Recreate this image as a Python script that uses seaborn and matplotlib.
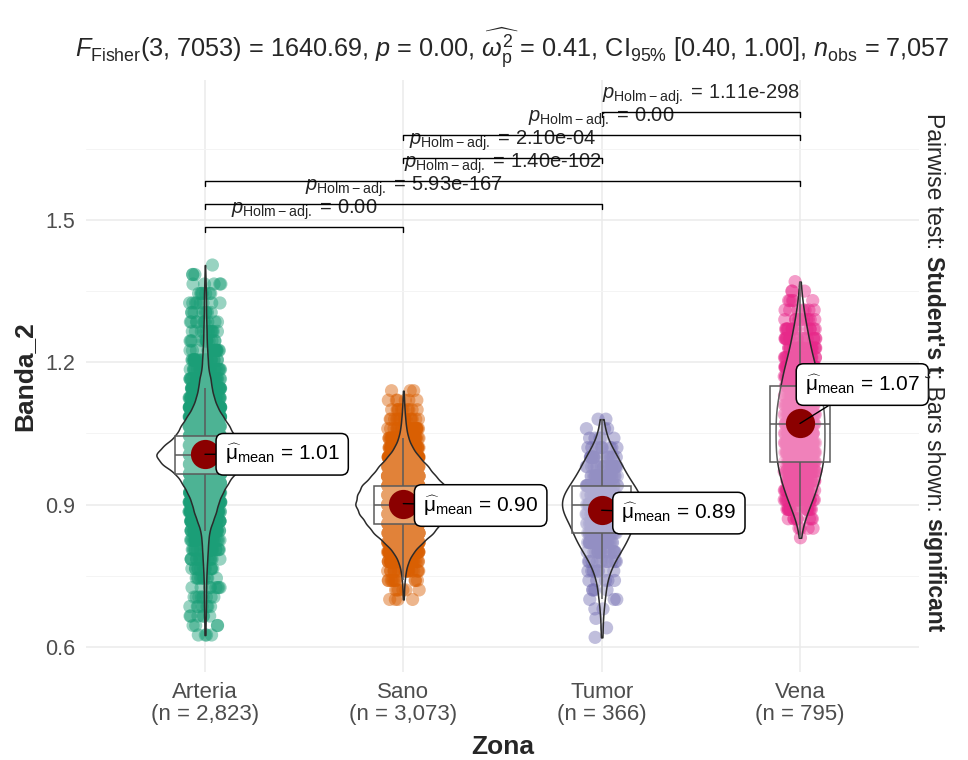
import numpy as np
import pandas as pd
import matplotlib
matplotlib.use("Agg")
import matplotlib.pyplot as plt
import seaborn as sns
from matplotlib.ticker import FixedLocator

# ---------------- data ----------------
zones = ["Arteria", "Sano", "Tumor", "Vena"]
n_obs = [2823, 3073, 366, 795]
palette = ["#1B9E77", "#D95F02", "#7570B3", "#E7298A"]

arteria_levels = [0.625, 0.645, 0.665, 0.685, 0.705, 0.725, 0.745, 0.765, 0.785, 0.805,
                  0.825, 0.845, 0.865, 0.885, 0.905, 0.925, 0.945, 0.965, 0.985, 1.005,
                  1.025, 1.045, 1.065, 1.085, 1.105, 1.125, 1.145, 1.165, 1.185, 1.205,
                  1.225, 1.245, 1.265, 1.285, 1.305, 1.325, 1.345, 1.365, 1.385, 1.405]
arteria_counts = [4, 4, 6, 7, 8, 8, 10, 13, 17, 21,
                  25, 33, 58, 83, 100, 130, 170, 215, 320, 375,
                  302, 215, 182, 135, 92, 67, 50, 42, 25, 21,
                  17, 13, 12, 10, 8, 8, 7, 5, 3, 1]

sano_levels = [0.70, 0.72, 0.74, 0.76, 0.78, 0.80, 0.82, 0.84, 0.86, 0.88, 0.90, 0.92,
               0.94, 0.96, 0.98, 1.00, 1.02, 1.04, 1.06, 1.08, 1.10, 1.12, 1.14]
sano_counts = [4, 6, 11, 20, 40, 81, 153, 242, 299, 355, 391, 371,
               339, 258, 202, 129, 73, 40, 24, 16, 10, 6, 3]

tumor_levels = [0.62, 0.64, 0.66, 0.68, 0.70, 0.72, 0.74, 0.76, 0.78, 0.80, 0.82, 0.84,
                0.86, 0.88, 0.90, 0.92, 0.94, 0.96, 0.98, 1.00, 1.02, 1.04, 1.06, 1.08]
tumor_counts = [1, 1, 1, 2, 3, 4, 5, 8, 12, 18, 24, 28,
                30, 38, 40, 39, 31, 25, 20, 16, 10, 5, 3, 2]

vena_levels = [0.83, 0.85, 0.87, 0.89, 0.91, 0.93, 0.95, 0.97, 0.99, 1.01, 1.03, 1.05, 1.07, 1.09,
               1.11, 1.13, 1.15, 1.17, 1.19, 1.21, 1.23, 1.25, 1.27, 1.29, 1.31, 1.33, 1.35, 1.37]
vena_counts = [1, 4, 9, 18, 27, 33, 40, 45, 49, 51, 51, 51, 51, 51,
               49, 45, 40, 38, 33, 27, 22, 18, 15, 11, 7, 5, 3, 1]

mean_values = [1.006, 0.902, 0.888, 1.071]

pairs = [("Arteria", "Sano"), ("Arteria", "Tumor"), ("Arteria", "Vena"),
         ("Sano", "Tumor"), ("Sano", "Vena"), ("Tumor", "Vena")]
p_labels = ["0.00", "5.93e-167", "1.40e-102", "2.10e-04", "0.00", "1.11e-298"]

title_text = (r"$F_{\mathrm{Fisher}}$(3, 7053) = 1640.69, $p$ = 0.00, "
              r"$\widehat{\omega_{\mathrm{p}}^{2}}$ = 0.41, CI$_{95\%}$ [0.40, 1.00], "
              r"$n_{\mathrm{obs}}$ = 7,057")

# ---------------- build long table ----------------
level_table = {"Arteria": (arteria_levels, arteria_counts),
               "Sano": (sano_levels, sano_counts),
               "Tumor": (tumor_levels, tumor_counts),
               "Vena": (vena_levels, vena_counts)}
frames = []
for z in zones:
    lv, ct = level_table[z]
    frames.append(pd.DataFrame({"Zona": z, "Banda_2": np.repeat(lv, ct)}))
df = pd.concat(frames, ignore_index=True)


def nrd0_factor(kde):
    # Silverman's rule of thumb (as used by R's density / ggplot2 violins)
    x = np.asarray(kde.dataset).ravel()
    sd = x.std(ddof=1)
    q75, q25 = np.percentile(x, [75, 25])
    lo = min(sd, (q75 - q25) / 1.34)
    return 0.9 * lo * len(x) ** -0.2 / sd


# ---------------- style ----------------
sns.set_style("white")
plt.rcParams["font.family"] = ["Liberation Sans", "DejaVu Sans"]
plt.rcParams["mathtext.fontset"] = "custom"
plt.rcParams["mathtext.rm"] = "Liberation Sans"
plt.rcParams["mathtext.it"] = "Liberation Sans:italic"
plt.rcParams["mathtext.bf"] = "Liberation Sans:bold"

fig = plt.figure(figsize=(9.68, 7.6), dpi=100)
ax = fig.add_axes([0.0888, 0.1158, 0.8606, 0.7789])

np.random.seed(3)
sns.stripplot(data=df, x="Zona", y="Banda_2", hue="Zona", order=zones, hue_order=zones,
              palette=palette, size=9.5, alpha=0.45, jitter=0.08, linewidth=0,
              legend=False, ax=ax, zorder=1)

nc = len(ax.collections)
sns.violinplot(data=df, x="Zona", y="Banda_2", order=zones, color="white", width=0.49,
               density_norm="area", cut=0, inner=None, linecolor="#2b2b2b", linewidth=1.1,
               gridsize=400, bw_method=nrd0_factor, ax=ax)
for c in ax.collections[nc:]:
    c.set_facecolor((1, 1, 1, 0.22))
    c.set_zorder(2)

npch = len(ax.patches)
nl = len(ax.lines)
sns.boxplot(data=df, x="Zona", y="Banda_2", order=zones, color="white", width=0.3,
            showfliers=False, showcaps=False, linecolor="#5a5a5a", linewidth=1.1, ax=ax)
for p in ax.patches[npch:]:
    p.set_facecolor((1, 1, 1, 0.25))
    p.set_zorder(3)
for l in ax.lines[nl:]:
    l.set_zorder(3)

sns.pointplot(x=zones, y=mean_values, order=zones, color="#8B0000", markersize=19,
              linestyle="none", errorbar=None, ax=ax, zorder=5)

# mean labels
label_offsets = [(0.10, 0.0), (0.10, -0.004), (0.10, -0.006), (0.025, 0.082)]
for i, m in enumerate(mean_values):
    dx, dy = label_offsets[i]
    ax.annotate(rf"$\widehat{{\mathrm{{μ}}}}_{{\mathrm{{mean}}}}$ = {m:.2f}",
                xy=(i, m), xytext=(i + dx, m + dy), ha="left", va="center",
                fontsize=15, color="black", zorder=6,
                bbox=dict(boxstyle="round,pad=0.42,rounding_size=0.35", fc="white",
                          ec="black", lw=1.1),
                arrowprops=dict(arrowstyle="-", color="black", lw=1, shrinkA=0, shrinkB=0))

# pairwise brackets
bracket_base = 1.485
bracket_step = 0.0485
tip = 0.011
for k, ((a, b), lab) in enumerate(zip(pairs, p_labels)):
    y = bracket_base + k * bracket_step
    xa, xb = zones.index(a), zones.index(b)
    ax.plot([xa, xa, xb, xb], [y - tip, y, y, y - tip], color="black", lw=1.0,
            zorder=4, clip_on=False)
    ax.text((xa + xb) / 2, y + 0.011, rf"$p_{{\mathrm{{Holm-adj.}}}}$ = {lab}",
            ha="center", va="bottom", fontsize=14.5, zorder=4)

# axes
ax.set_xlim(-0.6, 3.6)
ax.set_ylim(0.547, 1.795)
ax.set_yticks([0.6, 0.9, 1.2, 1.5])
ax.set_yticklabels(["0.6", "0.9", "1.2", "1.5"])
ax.yaxis.set_minor_locator(FixedLocator([0.75, 1.05, 1.35, 1.65]))
ax.set_xticks(range(len(zones)))
ax.set_xticklabels([f"{z}\n(n = {n:,})" for z, n in zip(zones, n_obs)], linespacing=1.1)
ax.grid(which="major", color="#EBEBEB", lw=1.1)
ax.grid(which="minor", axis="y", color="#F4F4F4", lw=0.7)
ax.set_axisbelow(True)
for s in ax.spines.values():
    s.set_visible(False)
ax.tick_params(axis="y", which="major", length=4, width=1, color="#333333",
               labelsize=15.5, labelcolor="#4D4D4D", pad=4)
ax.tick_params(axis="x", which="major", length=4, width=1, color="#333333",
               labelsize=16, labelcolor="#4D4D4D", pad=3)
ax.tick_params(which="minor", length=0)
ax.set_xlabel("Zona", fontsize=19, fontweight="bold", labelpad=7)
ax.set_ylabel("Banda_2", fontsize=19, fontweight="bold", labelpad=6)

fig.text(75 / 968, 1 - 58 / 760, title_text, fontsize=18.2, ha="left", va="baseline")

# right-side caption with mixed weights
fig.canvas.draw()
rend = fig.canvas.get_renderer()
pieces = [("Pairwise test: ", "normal"), ("Student's t", "bold"),
          ("; Bars shown: ", "normal"), ("significant", "bold")]
cap_size = 16.5
widths = []
for s, w in pieces:
    t = fig.text(0, 0, s, fontsize=cap_size, fontweight=w)
    widths.append(t.get_window_extent(rend).width)
    t.remove()
total = sum(widths)
center_y_px = 760 - (110 + 636) / 2
y_px = center_y_px + total / 2
x_px = 927
for (s, w), wd in zip(pieces, widths):
    fig.text(x_px / 968, y_px / 760, s, fontsize=cap_size, fontweight=w, rotation=270,
             rotation_mode="anchor", ha="left", va="baseline")
    y_px -= wd

fig.savefig("out.png", dpi=100)
